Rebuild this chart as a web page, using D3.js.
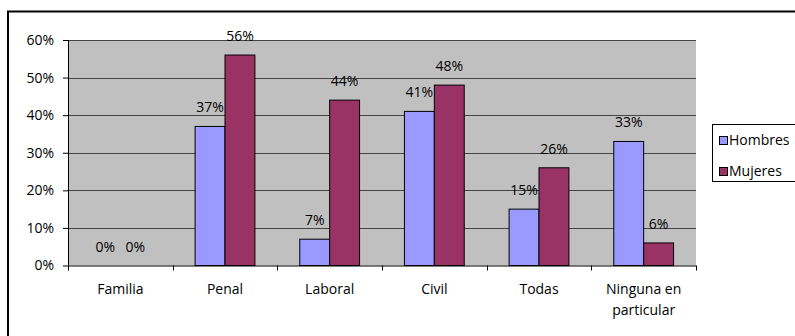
<!DOCTYPE html>
<html>
<head>
<meta charset="utf-8">
<script src="https://cdn.jsdelivr.net/npm/d3@7/dist/d3.min.js"></script>
<style>
  html, body { margin: 0; padding: 0; background: #fff; }
  svg { display: block; }
  text { font-family: "Open Sans", "Liberation Sans", sans-serif; font-size: 14px; fill: #000; }
</style>
</head>
<body>
<svg id="chart" width="795" height="336"></svg>
<script>
// Áreas de especialización
const categories = ["Familia", "Penal", "Laboral", "Civil", "Todas", "Ninguna en particular"];
const seriesNames = ["Hombres", "Mujeres"];
const hombres = [0, 37, 7, 41, 15, 33];
const mujeres = [0, 56, 44, 48, 26, 6];
const yTicks = [0, 10, 20, 30, 40, 50, 60];
const colors = ["#9999FF", "#993366"];

const svg = d3.select("#chart");

// outer frame
svg.append("rect")
  .attr("x", 8).attr("y", 11.5)
  .attr("width", 800).attr("height", 340)
  .attr("fill", "#fff").attr("stroke", "#000").attr("stroke-width", 2);

const plot = { left: 68, right: 696, top: 40, bottom: 265.5 };

const x = d3.scaleBand().domain(categories).range([plot.left, plot.right]);
const inner = d3.scaleBand().domain(seriesNames).range([0, x.bandwidth()]).paddingInner(0).paddingOuter(0.75);
const y = d3.scaleLinear().domain([0, 60]).range([plot.bottom, plot.top]);

// plot background
svg.append("rect")
  .attr("x", plot.left).attr("y", plot.top)
  .attr("width", plot.right - plot.left).attr("height", plot.bottom - plot.top)
  .attr("fill", "#C0C0C0");

// gridlines
svg.append("g").selectAll("line").data(yTicks.filter(d => d > 0)).join("line")
  .attr("x1", plot.left).attr("x2", plot.right)
  .attr("y1", d => Math.round(y(d)) + 0.5).attr("y2", d => Math.round(y(d)) + 0.5)
  .attr("stroke", "#444").attr("stroke-width", 1);

// bars
const rows = categories.map((c, i) => ({ cat: c, vals: [hombres[i], mujeres[i]] }));
const groups = svg.append("g").selectAll("g").data(rows).join("g")
  .attr("transform", d => `translate(${x(d.cat)},0)`);

groups.selectAll("rect").data(d => d.vals.map((v, j) => ({ v, j })).filter(e => e.v > 0)).join("rect")
  .attr("x", e => inner(seriesNames[e.j]))
  .attr("y", e => y(e.v))
  .attr("width", inner.bandwidth())
  .attr("height", e => y(0) - y(e.v))
  .attr("fill", e => colors[e.j])
  .attr("stroke", "#000").attr("stroke-width", 1);

// value labels
groups.selectAll("text").data(d => d.vals.map((v, j) => ({ v, j }))).join("text")
  .attr("x", e => inner(seriesNames[e.j]) + inner.bandwidth() / 2)
  .attr("y", e => y(e.v) - 14)
  .attr("text-anchor", "middle")
  .text(e => e.v + "%");

// y axis
const yAxis = d3.axisLeft(y).tickValues(yTicks).tickFormat(d => d + "%").tickSize(5).tickPadding(9);
const gy = svg.append("g").attr("transform", `translate(${plot.left},0)`).call(yAxis);
gy.select(".domain").attr("stroke", "#000").attr("d", `M0.5,${plot.top}V${plot.bottom}`);
gy.selectAll(".tick line").attr("stroke", "#000");
gy.selectAll("text").style("font-size", "14px").style("font-family", null).attr("fill", "#000");

// x axis
const gx = svg.append("g").attr("transform", `translate(0,${plot.bottom})`);
gx.append("line").attr("x1", plot.left).attr("x2", plot.right)
  .attr("y1", 0.5).attr("y2", 0.5).attr("stroke", "#000");
const bounds = d3.range(categories.length + 1).map(i => plot.left + i * x.step());
gx.selectAll("line.tk").data(bounds).join("line").attr("class", "tk")
  .attr("x1", d => Math.round(d) + 0.5).attr("x2", d => Math.round(d) + 0.5)
  .attr("y1", 0).attr("y2", 5).attr("stroke", "#000");

const catLines = { "Ninguna en particular": ["Ninguna en", "particular"] };
gx.selectAll("text.cat").data(categories).join("text").attr("class", "cat")
  .attr("text-anchor", "middle")
  .attr("transform", d => `translate(${x(d) + x.bandwidth() / 2},28)`)
  .each(function (d) {
    const lines = catLines[d] || [d];
    d3.select(this).selectAll("tspan").data(lines).join("tspan")
      .attr("x", 0).attr("dy", (l, i) => i === 0 ? 0 : 21).text(l => l);
  });

// legend
const lg = svg.append("g").attr("transform", "translate(712,124)");
lg.append("rect").attr("x", 0.5).attr("y", 0.5).attr("width", 90).attr("height", 57)
  .attr("fill", "#fff").attr("stroke", "#000");
seriesNames.forEach((name, i) => {
  lg.append("rect").attr("x", 7.5).attr("y", 12.5 + i * 31).attr("width", 8).attr("height", 8)
    .attr("fill", colors[i]).attr("stroke", "#000");
  lg.append("text").attr("x", 17).attr("y", 21 + i * 31).text(name);
});
</script>
</body>
</html>
